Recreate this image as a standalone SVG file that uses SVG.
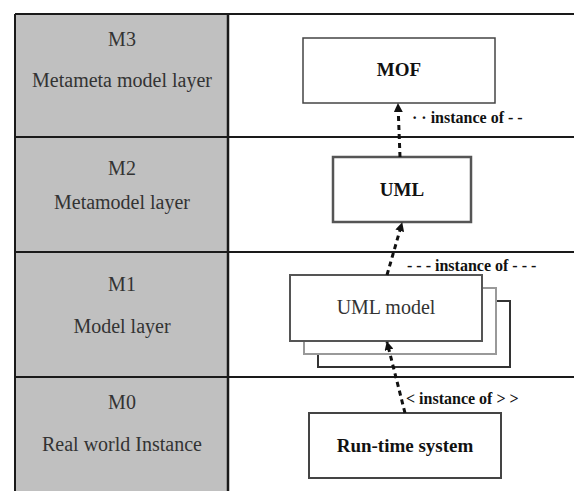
<svg xmlns="http://www.w3.org/2000/svg" width="574" height="491" viewBox="0 0 574 491">
<style>
  .cell { fill: #c0c0c0; stroke: none; }
  .grid { stroke: #1a1a1a; stroke-width: 2; fill: none; }
  .lay { font-family: 'Liberation Serif', 'DejaVu Serif', serif; font-size: 20px; fill: #333; text-anchor: middle; }
  .box { fill: #ffffff; stroke: #444; stroke-width: 2; }
  .bl { font-family: 'Liberation Serif', 'DejaVu Serif', serif; font-size: 19px; font-weight: bold; fill: #111; text-anchor: middle; }
  .rl { font-family: 'Liberation Serif', 'DejaVu Serif', serif; font-size: 20px; fill: #333; text-anchor: middle; }
  .lbl { font-family: 'Liberation Serif', 'DejaVu Serif', serif; font-size: 16px; font-weight: bold; fill: #111; }
  .dash { stroke: #111; stroke-width: 3; stroke-dasharray: 5 4; fill: none; marker-end: url(#ah); }
</style>
<defs>
  <marker id="ah" viewBox="0 0 10 10" refX="9" refY="5" markerWidth="3" markerHeight="3" orient="auto" markerUnits="strokeWidth">
    <path d="M0,0 L10,5 L0,10 z" fill="#111"/>
  </marker>
</defs>
<rect x="0" y="0" width="574" height="491" fill="#ffffff"/>

<g id="layers">
  <rect class="cell" x="15" y="14" width="213" height="477"/>
  <line class="grid" x1="15" y1="14" x2="574" y2="14"/>
  <line class="grid" x1="15" y1="137" x2="574" y2="137"/>
  <line class="grid" x1="15" y1="252" x2="574" y2="252"/>
  <line class="grid" x1="15" y1="377" x2="574" y2="377"/>
  <line class="grid" x1="15" y1="14" x2="15" y2="491"/>
  <line class="grid" x1="228" y1="14" x2="228" y2="491" style="stroke-width:2.5"/>
</g>

<g id="m3-label">
  <text class="lay" x="122" y="46">M3</text>
  <text class="lay" x="122" y="87">Metameta model layer</text>
</g>
<g id="m2-label">
  <text class="lay" x="122" y="175">M2</text>
  <text class="lay" x="122" y="209">Metamodel layer</text>
</g>
<g id="m1-label">
  <text class="lay" x="122" y="291">M1</text>
  <text class="lay" x="122" y="333">Model layer</text>
</g>
<g id="m0-label">
  <text class="lay" x="122" y="409">M0</text>
  <text class="lay" x="122" y="451">Real world Instance</text>
</g>

<g id="mof">
  <rect class="box" x="303" y="38" width="192" height="65" style="stroke-width:1.5"/>
  <text class="bl" x="399" y="76">MOF</text>
</g>
<g id="uml">
  <rect class="box" x="333" y="157" width="138" height="65" style="stroke:#555;stroke-width:2.5"/>
  <text class="bl" x="402" y="196">UML</text>
</g>
<g id="uml-model">
  <rect class="box" x="318" y="301" width="192" height="66" style="stroke:#333"/>
  <rect class="box" x="304" y="288" width="192" height="66" style="stroke:#999"/>
  <rect class="box" x="290" y="275" width="192" height="66" style="stroke:#555"/>
  <text class="rl" x="386" y="314">UML model</text>
</g>
<g id="runtime">
  <rect class="box" x="309" y="413" width="192" height="65"/>
  <text class="bl" x="405" y="452">Run-time system</text>
</g>

<g id="connectors">
  <line class="dash" x1="400" y1="157" x2="398" y2="104"/>
  <line class="dash" x1="387" y1="275" x2="402" y2="223"/>
  <line class="dash" x1="405" y1="413" x2="387" y2="342"/>
  <text class="lbl" x="412" y="123">· · instance of - -</text>
  <text class="lbl" x="407" y="271">- - - instance of - - -</text>
  <text class="lbl" x="406" y="404">&lt; instance of &gt; &gt;</text>
</g>
</svg>
